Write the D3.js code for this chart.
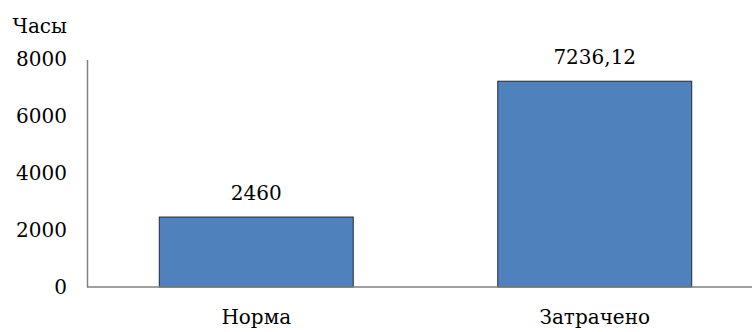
<!DOCTYPE html>
<html>
<head>
<meta charset="utf-8">
<script src="https://cdn.jsdelivr.net/npm/d3@7"></script>
<style>
  body { margin: 0; background: #ffffff; }
</style>
</head>
<body>
<div id="chart"></div>
<script>
// Data
const categories = ["Норма", "Затрачено"];
const values = [2460, 7236.12];
const valueLabels = ["2460", "7236,12"];
const yTicks = [0, 2000, 4000, 6000, 8000];
const yTitle = "Часы";

const width = 752, height = 332;
const fontSize = 20;
// Liberation Serif does not resolve here, DejaVu Serif does
const serif = "DejaVu Serif";

const svg = d3.select("#chart").append("svg")
    .attr("width", width)
    .attr("height", height)
    .style("font-family", serif);

// Scales
const x = d3.scaleBand()
    .domain(categories)
    .range([87, 764])
    .paddingInner(0.427)
    .paddingOuter(0.2135);

const y = d3.scaleLinear()
    .domain([0, 8000])
    .range([287, 59.5]);

// Bars
svg.selectAll(".bar")
    .data(values)
    .enter().append("rect")
    .attr("class", "bar")
    .attr("x", function (d, i) { return x(categories[i]); })
    .attr("y", function (d) { return y(d); })
    .attr("width", x.bandwidth())
    .attr("height", function (d) { return y(0) - y(d); })
    .attr("fill", "#4F81BD")
    .attr("stroke", "#1f2a3a")
    .attr("stroke-width", 1);

// Value labels
svg.selectAll(".val")
    .data(values)
    .enter().append("text")
    .attr("class", "val")
    .attr("x", function (d, i) { return x(categories[i]) + x.bandwidth() / 2; })
    .attr("y", function (d) { return y(d) - 17; })
    .attr("text-anchor", "middle")
    .style("font-family", serif)
    .style("font-size", fontSize + "px")
    .text(function (d, i) { return valueLabels[i]; });

// Y axis
const yAxis = svg.append("g")
    .attr("transform", "translate(87,0)")
    .call(d3.axisLeft(y).tickValues(yTicks).tickSize(0).tickPadding(20).tickFormat(d3.format("d")));
yAxis.select(".domain").attr("stroke", "#808080").attr("stroke-width", 1.5);
yAxis.selectAll("text").attr("fill", "#000")
    .style("font-family", serif)
    .style("font-size", fontSize + "px");

// X axis
const xAxis = svg.append("g")
    .attr("transform", "translate(0,287)")
    .call(d3.axisBottom(x).tickSize(0).tickPadding(23));
xAxis.select(".domain").attr("stroke", "#808080").attr("stroke-width", 1.5)
    .attr("d", "M87,0H" + width);
xAxis.selectAll("text").attr("fill", "#000")
    .style("font-family", serif)
    .style("font-size", fontSize + "px");

// Y title
svg.append("text")
    .attr("x", 67)
    .attr("y", 33)
    .attr("text-anchor", "end")
    .style("font-family", serif)
    .style("font-size", fontSize + "px")
    .text(yTitle);
</script>
</body>
</html>
